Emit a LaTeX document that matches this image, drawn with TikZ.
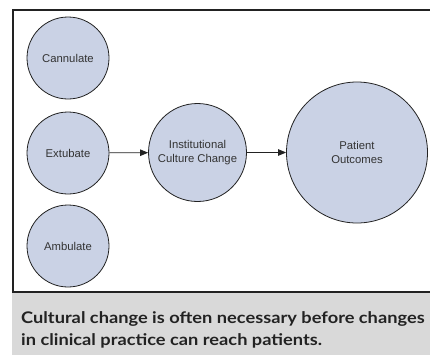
\documentclass[tikz,border=0pt]{standalone}
\usepackage{fontspec}
\setmainfont{Liberation Sans}
\newfontfamily\capfont[FakeStretch=1.14]{Lato}
\usetikzlibrary{arrows.meta}
\definecolor{bubble}{HTML}{CAD2E5}
\definecolor{capbg}{HTML}{D9D9D9}
\definecolor{ink}{HTML}{222222}
\definecolor{txt}{HTML}{333333}
\tikzset{
  bubble/.style={circle, draw=ink, line width=0.8pt, fill=bubble, inner sep=0pt,
    align=center, text=txt, font=\fontsize{11.3}{14.5}\selectfont},
  link/.style={draw=ink, line width=0.8pt, -{Triangle[length=8pt,width=6.5pt]}},
  captext/.style={anchor=base west, inner sep=0pt, text=ink,
    font=\capfont\bfseries\fontsize{16}{22}\selectfont},
}
\begin{document}
\begin{tikzpicture}[x=1pt,y=-1pt]
\useasboundingbox (0,0) rectangle (430,356);
\fill[white] (0,0) rectangle (430,356);
\draw[ink, line width=2pt] (440,10) -- (12.5,10) -- (12.5,292) -- (440,292);
\fill[capbg] (12,293) rectangle (430,355);
\node[bubble, minimum size=82pt] (can) at (68,58) {Cannulate};
\node[bubble, minimum size=82pt] (ext) at (68,153) {Extubate};
\node[bubble, minimum size=82pt] (amb) at (68,246) {Ambulate};
\node[bubble, minimum size=98pt] (inst) at (197.5,152.5) {Institutional\\Culture Change};
\node[bubble, minimum size=141pt] (pat) at (357,152.5) {Patient\\Outcomes};
\draw[link] (ext) -- (inst);
\draw[link] (inst) -- (pat);
\node[captext] (cap1) at (21,323) {Cultural change is often necessary before changes};
\node[captext] (cap2) at (21,345) {in clinical practice can reach patients.};
\end{tikzpicture}
\end{document}
